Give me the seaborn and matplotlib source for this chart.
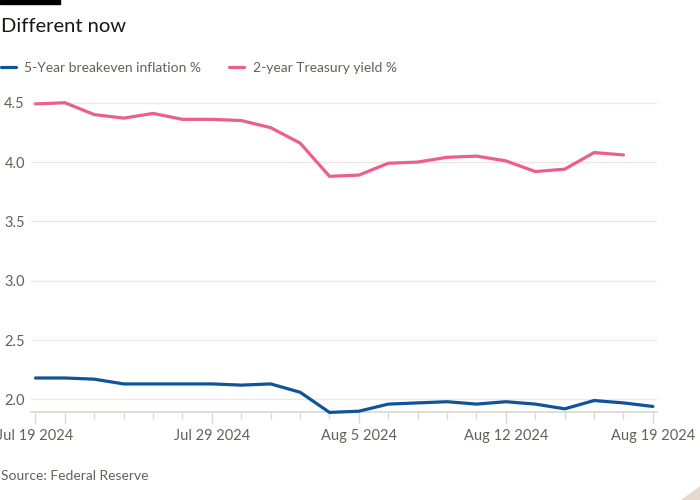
import numpy as np
import pandas as pd
import matplotlib
matplotlib.use("Agg")
import matplotlib.pyplot as plt
from matplotlib.patches import Rectangle, Polygon
import seaborn as sns

dates = ["Jul 19 2024", "Jul 22 2024", "Jul 23 2024", "Jul 24 2024", "Jul 25 2024",
         "Jul 26 2024", "Jul 29 2024", "Jul 30 2024", "Jul 31 2024", "Aug 1 2024",
         "Aug 2 2024", "Aug 5 2024", "Aug 6 2024", "Aug 7 2024", "Aug 8 2024",
         "Aug 9 2024", "Aug 12 2024", "Aug 13 2024", "Aug 14 2024", "Aug 15 2024",
         "Aug 16 2024", "Aug 19 2024"]
breakeven = [2.18, 2.18, 2.17, 2.13, 2.13, 2.13, 2.13, 2.12, 2.13, 2.06,
             1.89, 1.90, 1.96, 1.97, 1.98, 1.96, 1.98, 1.96, 1.92, 1.99,
             1.97, 1.94]
treasury = [4.49, 4.50, 4.40, 4.37, 4.41, 4.36, 4.36, 4.35, 4.29, 4.16,
            3.88, 3.89, 3.99, 4.00, 4.04, 4.05, 4.01, 3.92, 3.94, 4.08,
            4.06, np.nan]
series_names = ["5-Year breakeven inflation %", "2-year Treasury yield %"]
labeled_ticks = ["Jul 19 2024", "Jul 29 2024", "Aug 5 2024", "Aug 12 2024", "Aug 19 2024"]
major_ticks = ["Jul 19 2024", "Jul 22 2024", "Jul 29 2024", "Aug 5 2024", "Aug 12 2024", "Aug 19 2024"]
yticks = [2.0, 2.5, 3.0, 3.5, 4.0, 4.5]
title = "Different now"
source = "Source: Federal Reserve"

colors = ["#0f5499", "#eb5e8d"]
text_col = "#66605c"

sns.set_theme(style="white")
plt.rcParams["font.family"] = ["Lato", "DejaVu Sans"]

idx = np.arange(len(dates))
df = pd.DataFrame({
    "i": np.concatenate([idx, idx]),
    "value": breakeven + treasury,
    "series": [series_names[0]] * len(dates) + [series_names[1]] * len(dates),
})

fig = plt.figure(figsize=(7, 5), dpi=100)
fig.patch.set_facecolor("white")
ax = fig.add_axes([0.0444, 0.1752, 0.939 - 0.0444, 0.6312])
ax.set_facecolor("white")

sns.lineplot(data=df, x="i", y="value", hue="series", palette=colors,
             hue_order=series_names, linewidth=2.3, ax=ax, legend=False)
for ln in ax.lines:
    ln.set_clip_on(False)
    ln.set_zorder(3)

ax.set_xlim(-0.15, len(dates) - 1 + 0.15)
ax.set_ylim(1.89, 4.55)
ax.set_yticks(yticks)
ax.set_yticklabels([f"{v:.1f}" for v in yticks])
ax.grid(axis="y", color="#f1e9e1", linewidth=1)
ax.grid(axis="x", visible=False)
for s in ["top", "right", "left"]:
    ax.spines[s].set_visible(False)
ax.spines["bottom"].set_color("#dcd7d2")
ax.spines["bottom"].set_linewidth(1.2)
ax.spines["bottom"].set_zorder(2)

maj = [dates.index(d) for d in major_ticks]
minr = [i for i in idx if i not in maj]
ax.set_xticks(maj)
ax.set_xticklabels([d if d in labeled_ticks else "" for d in major_ticks])
ax.set_xticks(minr, minor=True)
ax.tick_params(axis="x", which="major", length=8, width=1, color="#dcd7d2",
               labelsize=10.5, labelcolor=text_col, pad=4, bottom=True)
ax.tick_params(axis="x", which="minor", length=5, width=1, color="#dcd7d2", bottom=True)
ax.tick_params(axis="y", length=0, labelsize=10.5, labelcolor=text_col, pad=4.5)
ax.set_xlabel("")
ax.set_ylabel("")

handles = [plt.Line2D([], [], color=c, linewidth=2.3) for c in colors]
fig.legend(handles, series_names, loc="center left", bbox_to_anchor=(-0.017, 0.864),
           ncol=2, frameon=False, fontsize=10, labelcolor=text_col,
           handlelength=1.1, handletextpad=0.6, columnspacing=2.0)

fig.text(0.001, 0.946, title, fontsize=14.5, color="#1a1817", va="center", ha="left")
fig.text(0.001, 0.049, source, fontsize=10, color=text_col, va="center", ha="left")
fig.patches.append(Rectangle((0, 0.992), 60 / 700, 0.008, transform=fig.transFigure,
                             color="black", zorder=5))
fig.patches.append(Polygon([(1.0, 0.0), (1.0, 0.026), (682 / 700, 0.0)], closed=True,
                           transform=fig.transFigure, color="#e6d9cc", zorder=5))

fig.savefig("out.png", dpi=100)
